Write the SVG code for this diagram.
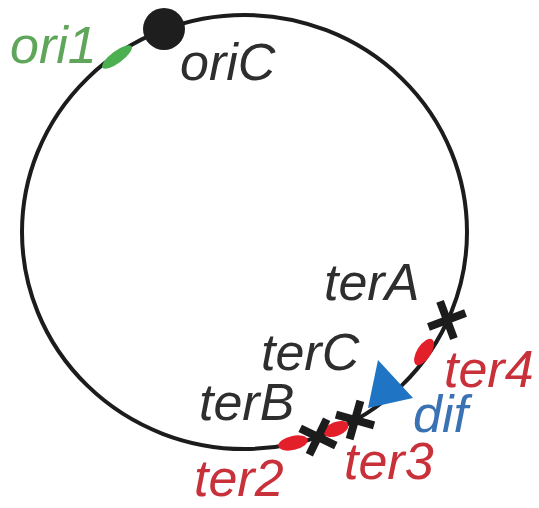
<svg xmlns="http://www.w3.org/2000/svg" xmlns:xlink="http://www.w3.org/1999/xlink" width="539" height="508" viewBox="0 0 539 508">
  <style>
    .lbl { font-family: "Liberation Sans", Arial, sans-serif; font-style: italic; font-size: 52px; }
    .dark { fill: #2e2e2e; }
    .red { fill: #c8303a; }
    .green { fill: #5fa55a; }
    .blue { fill: #3a72b4; }
    .chrom { fill: none; stroke: #1c1c1c; stroke-width: 4; }
    .xm { stroke: #1c1c1c; stroke-width: 8; stroke-linecap: butt; fill: none; }
    .seg-red { fill: #e3202a; }
  </style>
  <defs>
    <path id="xmark" class="xm" d="M-14,-14 L14,14 M-14,14 L14,-14"/>
  </defs>
  <rect width="539" height="508" fill="#ffffff"/>

  <g id="connectors">
    <ellipse id="chromosome" class="chrom" cx="244.5" cy="232" rx="222.5" ry="217"/>
  </g>

  <g id="ori1">
    <ellipse cx="117" cy="57" rx="18" ry="6" fill="#4caf50" transform="rotate(-36.5 117 57)"/>
    <text class="lbl green" x="10" y="63">ori1</text>
  </g>

  <g id="oriC">
    <circle cx="164" cy="29" r="21" fill="#1e1e1e"/>
    <text class="lbl dark" x="180" y="80">oriC</text>
  </g>

  <g id="terA">
    <use xlink:href="#xmark" transform="translate(447 320) rotate(114.5)"/>
    <text class="lbl dark" x="324" y="300">terA</text>
  </g>

  <g id="ter4">
    <ellipse cx="424" cy="352" rx="15" ry="7" class="seg-red" transform="rotate(-58 424 352)"/>
    <text class="lbl red" x="444" y="387">ter4</text>
  </g>

  <g id="dif">
    <polygon points="378,360 368,408 413,398" fill="#1f74c4"/>
    <text class="lbl blue" x="413" y="432">dif</text>
  </g>

  <g id="terC">
    <use xlink:href="#xmark" transform="translate(355 420) rotate(150.8)"/>
    <text class="lbl dark" x="261" y="370">terC</text>
  </g>

  <g id="ter3">
    <ellipse cx="336" cy="429" rx="13" ry="7" class="seg-red" transform="rotate(-22 336 429)"/>
    <text class="lbl red" x="344" y="479">ter3</text>
  </g>

  <g id="terB">
    <use xlink:href="#xmark" transform="translate(318 437) rotate(161)"/>
    <text class="lbl dark" x="199" y="420">terB</text>
  </g>

  <g id="ter2">
    <ellipse cx="293" cy="443" rx="15" ry="7" class="seg-red" transform="rotate(-13 293 443)"/>
    <text class="lbl red" x="194" y="496">ter2</text>
  </g>
</svg>
